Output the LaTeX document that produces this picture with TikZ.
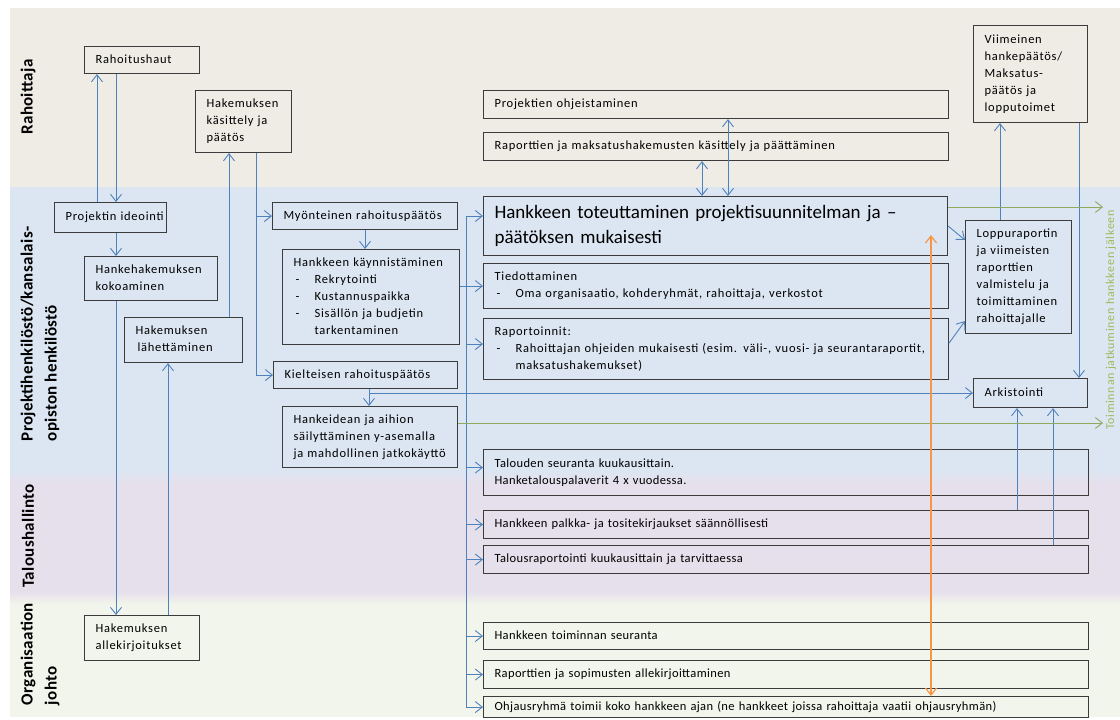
\documentclass[tikz,border=0pt]{standalone}
\usepackage{fontspec}
\setmainfont{Carlito}
\newfontfamily\boxfont[LetterSpace=6]{Carlito}
\newfontfamily\widefont[LetterSpace=3]{Carlito}
\newfontfamily\plainbox{Carlito}
\newfontfamily\lanefont[LetterSpace=2]{Carlito}
\usetikzlibrary{arrows.meta}

\definecolor{bandR}{HTML}{EEECE5}
\definecolor{bandP}{HTML}{DCE6F2}
\definecolor{bandT}{HTML}{E6E0EC}
\definecolor{bandO}{HTML}{F2F5EB}
\definecolor{boxline}{HTML}{3C3C3C}
\definecolor{flowblue}{HTML}{4F81BD}
\definecolor{flowgreen}{HTML}{8EAA5C}
\definecolor{textgreen}{HTML}{9BBB59}
\definecolor{floworange}{HTML}{F79646}

% one-row-per-line text block that never wraps
\newcommand\boxtext[1]{\begin{tabular}{@{}l@{}}#1\end{tabular}}
\newcommand\dashitem{\makebox[21pt][l]{\hspace{2pt}-}}

\begin{document}
\begin{tikzpicture}[x=1pt,y=-1pt,
  box/.style={draw=boxline, line width=1.1pt, anchor=north west,
    inner xsep=11pt, inner ysep=0pt, align=left,
    font=\boxfont\fontsize{12.5}{17}\selectfont},
  wide/.style={box, text width=583pt,
    font=\widefont\fontsize{12.5}{17}\selectfont},
  lane/.style={rotate=90, align=left, inner sep=0pt,
    font=\lanefont\bfseries\fontsize{17}{24}\selectfont},
  tip/.tip={Straight Barb[length=7pt,width=11pt]},
  arr/.style={draw=flowblue, line width=0.9pt, -tip},
  dbl/.style={draw=flowblue, line width=0.9pt, tip-tip},
  garr/.style={draw=flowgreen, line width=0.9pt, -tip},
  oarr/.style={draw=floworange, line width=1.2pt, tip-tip},
]
\useasboundingbox (0,0) rectangle (1120,720);
\fill[white] (0,0) rectangle (1120,720);

% swim lanes
\fill[bandR] (10,8) rectangle (1120,187);
\fill[bandP] (10,187) rectangle (1120,477);
\fill[bandT] (10,477) rectangle (1120,598);
\fill[bandO] (10,598) rectangle (1120,717);
\shade[top color=bandP, bottom color=bandT] (10,471) rectangle (1120,483);
\shade[top color=bandT, bottom color=bandO] (10,592) rectangle (1120,604);

\node[lane] (laneR) at (28,97) {Rahoittaja};
\node[lane] (laneP) at (40,334) {Projektihenkilöstö/kansalais-\\opiston henkilöstö};
\node[lane] (laneT) at (28,536) {Taloushallinto};
\node[lane] (laneO) at (40,654) {Organisaation\\johto};

% funder
\node[box, text width=93pt, minimum height=27pt] (haut) at (84,46) {\boxtext{Rahoitushaut}};
\node[box, text width=74pt, minimum height=62pt] (kasit) at (195,90) {\boxtext{Hakemuksen\\käsittely ja\\päätös}};
\node[box, text width=443pt, minimum height=28pt] (ohje) at (483,90) {\boxtext{Projektien ohjeistaminen}};
\node[box, text width=443pt, minimum height=28pt] (rapmaks) at (483,132) {\boxtext{Raporttien ja maksatushakemusten käsittely ja päättäminen}};
\node[box, text width=92pt, minimum height=97pt] (viim) at (973,25) {\boxtext{Viimeinen\\hankepäätös/\\Maksatus-\\päätös ja\\lopputoimet}};

% project staff
\node[box, text width=90pt, minimum height=30pt] (ideo) at (54,202) {\boxtext{Projektin ideointi}};
\node[box, text width=111pt, minimum height=44pt] (kokoa) at (84,256) {\boxtext{Hankehakemuksen\\kokoaminen}};
\node[box, text width=96pt, minimum height=45pt] (lahet) at (124,317) {\boxtext{Hakemuksen\\\hspace*{2pt}lähettäminen}};
\node[box, text width=163pt, minimum height=27pt] (myon) at (272,202) {\boxtext{Myönteinen rahoituspäätös}};
\node[box, text width=155pt, minimum height=95pt] (kaynn) at (282,249) {\boxtext{Hankkeen käynnistäminen\\\dashitem Rekrytointi\\\dashitem Kustannuspaikka\\\dashitem Sisällön ja budjetin\\\hspace*{21pt}tarkentaminen}};
\node[box, text width=162pt, minimum height=27pt] (kiel) at (273,361) {\boxtext{Kielteisen rahoituspäätös}};
\node[box, text width=153pt, minimum height=61pt] (idea) at (282,406) {\boxtext{Hankeidean ja aihion\\säilyttäminen y-asemalla\\ja mahdollinen jatkokäyttö}};
\node[box, text width=442pt, minimum height=59pt, font=\plainbox\fontsize{19}{25}\selectfont] (toteut) at (483,196) {\boxtext{Hankkeen toteuttaminen projektisuunnitelman ja –\\päätöksen mukaisesti}};
\node[box, text width=443pt, minimum height=45pt] (tied) at (483,263) {\boxtext{Tiedottaminen\\\dashitem Oma organisaatio, kohderyhmät, rahoittaja, verkostot}};
\node[box, text width=443pt, minimum height=61pt] (rapo) at (483,318) {\boxtext{Raportoinnit:\\\dashitem Rahoittajan ohjeiden mukaisesti (esim. väli-, vuosi- ja seurantaraportit,\\\hspace*{21pt}maksatushakemukset)}};
\node[box, text width=84pt, minimum height=113pt] (loppu) at (965,220) {\boxtext{Loppuraportin\\ja viimeisten\\raporttien\\valmistelu ja\\toimittaminen\\rahoittajalle}};
\node[box, text width=92pt, minimum height=29pt] (arkisto) at (973,378) {\boxtext{Arkistointi}};

% finance
\node[wide, minimum height=46pt] (talseur) at (483,449) {\boxtext{Talouden seuranta kuukausittain.\\Hanketalouspalaverit 4 x vuodessa.}};
\node[wide, minimum height=28pt] (palkka) at (483,510) {\boxtext{Hankkeen palkka- ja tositekirjaukset säännöllisesti}};
\node[wide, minimum height=28pt] (talrap) at (483,545) {\boxtext{Talousraportointi kuukausittain ja tarvittaessa}};

% management
\node[box, text width=93pt, minimum height=45pt] (allek) at (84,615) {\boxtext{Hakemuksen\\allekirjoitukset}};
\node[wide, minimum height=27pt] (toimseur) at (483,622) {\boxtext{Hankkeen toiminnan seuranta}};
\node[wide, minimum height=28pt] (raposop) at (483,660) {\boxtext{Raporttien ja sopimusten allekirjoittaminen}};
\node[wide, minimum height=21pt] (ohjaus) at (483,696) {\boxtext{Ohjausryhmä toimii koko hankkeen ajan (ne hankkeet joissa rahoittaja vaatii ohjausryhmän)}};

\node[rotate=90, text=textgreen, inner sep=0pt, font=\boxfont\fontsize{12}{14}\selectfont] (jatko) at (1111,320) {Toiminnan jatkuminen hankkeen jälkeen};

% application phase
\draw[arr] (ideo.north -| 97,0) -- (haut.south -| 97,0);
\draw[arr] (haut.south -| 116,0) -- (ideo.north -| 116,0);
\draw[arr] (ideo.south -| 116,0) -- (kokoa.north -| 116,0);
\draw[arr] (kokoa.south -| 116,0) -- (allek.north -| 116,0);
\draw[arr] (allek.north -| 168,0) -- (lahet.south -| 168,0);
\draw[arr] (lahet.north -| 229,0) -- (kasit.south -| 229,0);
\draw[arr] (kasit.south -| 256,0) |- (kiel.west);
\draw[arr] (myon.west -| 256,0) -- (myon.west);
\draw[arr] (myon.south -| 365,0) -- (kaynn.north -| 365,0);
\draw[arr] (kiel.south -| 369,0) -- (idea.north -| 369,0);
\draw[arr] (arkisto.west -| 369,0) -- (arkisto.west);

% implementation bus
\coordinate (bustop) at (466,216);
\draw[arr] (kaynn.east |- tied.west) -- (tied.west);
\draw[arr] (bustop) |- (ohjaus.west);
\draw[arr] (bustop) -- ([yshift=-20pt]toteut.north west);
\draw[arr] ([yshift=5pt]rapo.west -| bustop) -- ([yshift=5pt]rapo.west);
\draw[arr] ([yshift=5pt]talseur.west -| bustop) -- ([yshift=5pt]talseur.west);
\draw[arr] (palkka.west -| bustop) -- (palkka.west);
\draw[arr] (talrap.west -| bustop) -- (talrap.west);
\draw[arr] (toimseur.west -| bustop) -- (toimseur.west);
\draw[arr] (raposop.west -| bustop) -- (raposop.west);

% funder interaction
\draw[dbl] (rapmaks.south -| 702,0) -- (toteut.north -| 702,0);
\draw[dbl] (ohje.south -| 728,0) -- (toteut.north -| 728,0);

% closing phase
\draw[arr] (toteut.east) -- ([yshift=-20pt]loppu.north west);
\draw[arr] ([yshift=-25pt]rapo.north east) -- ([yshift=13pt]loppu.south west);
\draw[arr] (loppu.north -| 1000,0) -- (viim.south -| 1000,0);
\draw[arr] (viim.south -| 1079,0) -- (arkisto.north -| 1079,0);
\draw[arr] (palkka.north -| 1017,0) -- (arkisto.south -| 1017,0);
\draw[arr] (talrap.north -| 1053,0) -- (arkisto.south -| 1053,0);

% continuation after the project
\coordinate (cont1) at (1103,207);
\coordinate (cont2) at (1103,423);
\draw[garr] ([yshift=-11pt]toteut.north east) -- (cont1);
\draw[garr] ([yshift=-17pt]idea.north east) -- (cont2);

% steering group
\coordinate (steer) at (931,235);
\draw[oarr] (steer) -- (ohjaus.north -| steer);
\end{tikzpicture}
\end{document}
